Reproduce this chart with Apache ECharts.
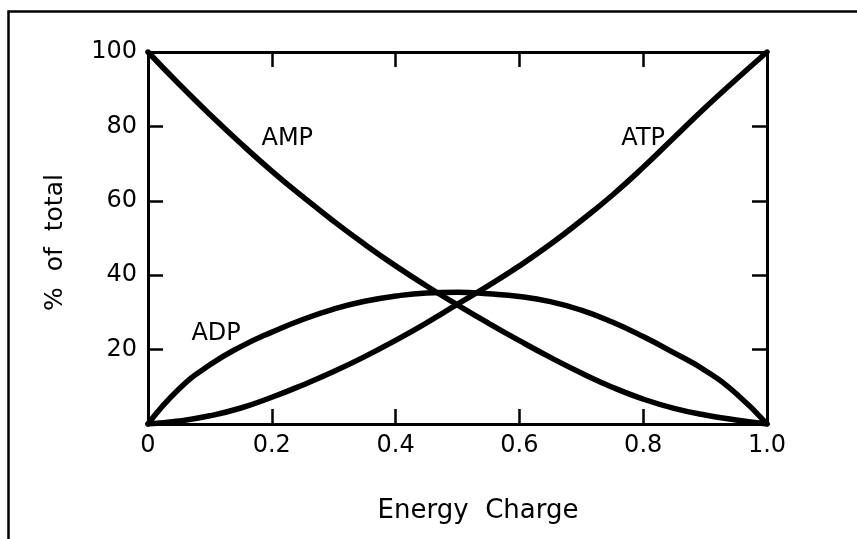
<!DOCTYPE html>
<html>
<head>
<meta charset="utf-8">
<script src="https://cdn.jsdelivr.net/npm/echarts@6/dist/echarts.min.js"></script>
<style>html,body{margin:0;padding:0;background:#fff;}#c{width:857px;height:539px;}</style>
</head>
<body>
<div id="c"></div>
<script>
const energyCharge = [0,0.05,0.1,0.15,0.2,0.25,0.3,0.35,0.4,0.45,0.5,0.55,0.6,0.65,0.7,0.75,0.8,0.85,0.9,0.95,1.0];
const ampValues = [100,91.4,83.2,75.4,68.0,61.1,54.5,48.3,42.5,37.1,32.0,27.1,22.4,17.9,13.7,9.9,6.7,4.2,2.4,1.1,0];
const adpValues = [0,9.4,15.9,20.8,24.7,28.1,30.9,33.0,34.4,35.2,35.4,35.0,34.3,32.9,30.6,27.4,23.5,19.1,14.4,8.2,0];
const atpValues = [0,0.8,2.2,4.3,7.2,10.5,14.1,18.1,22.5,27.2,32.2,37.2,42.5,48.3,54.7,61.5,69.0,77.0,85.0,92.6,100];
const xTickLabels = ['0','0.2','0.4','0.6','0.8','1.0'];
const yTickLabels = ['','20','40','60','80','100'];
const seriesNames = ['AMP','ADP','ATP'];
const labelAnchors = [[0.225,76.8],[0.11,24.3],[0.80,76.8]];

const FONT = 'DejaVu Sans';
const chart = echarts.init(document.getElementById('c'), null, {renderer:'canvas'});
const pairs = vals => energyCharge.map((e,i)=>[e, vals[i]]);
const lineStyle = {color:'#000', width:5.5, cap:'round', join:'round'};
const axisLineStyle = {onZero:false, lineStyle:{color:'#000', width:3}};
const tickStyle = {show:true, inside:true, length:15, lineStyle:{color:'#000', width:2.5}};

function mkSeries(name, vals, anchor){
  return {
    type:'line', name, data:pairs(vals), smooth:true, showSymbol:false,
    lineStyle, silent:true, z:3,
    markPoint:{
      symbol:'circle', symbolSize:1, itemStyle:{color:'rgba(0,0,0,0)'},
      label:{show:true, position:'inside', formatter:name, color:'#000', fontFamily:FONT, fontSize:24},
      data:[{coord:anchor}]
    }
  };
}

chart.setOption({
  backgroundColor:'#fff',
  animation:false,
  grid:{left:148, right:90, top:52, bottom:115},
  graphic:[{type:'rect', shape:{x:8.5, y:11.5, width:1000, height:700}, style:{fill:'none', stroke:'#000', lineWidth:2.5}, silent:true}],
  xAxis:[
    {type:'value', min:0, max:1, interval:0.2, position:'bottom',
     axisLine:axisLineStyle, axisTick:tickStyle, splitLine:{show:false},
     axisLabel:{margin:10, color:'#000', fontFamily:FONT, fontSize:24,
       formatter:v=>xTickLabels[Math.round(v/0.2)]},
     name:'Energy  Charge', nameLocation:'middle', nameGap:74,
     nameTextStyle:{color:'#000', fontFamily:FONT, fontSize:26, padding:[0,0,0,41]}},
    {type:'value', min:0, max:1, interval:0.2, position:'top',
     axisLine:axisLineStyle, axisTick:tickStyle, splitLine:{show:false}, axisLabel:{show:false}}
  ],
  yAxis:[
    {type:'value', min:0, max:100, interval:20, position:'left',
     axisLine:axisLineStyle, axisTick:tickStyle, splitLine:{show:false},
     axisLabel:{margin:11, color:'#000', fontFamily:FONT, fontSize:24,
       formatter:v=>yTickLabels[Math.round(v/20)]},
     name:'%  of  total', nameLocation:'middle', nameGap:80,
     nameTextStyle:{color:'#000', fontFamily:FONT, fontSize:25, padding:[0,9,0,0]}},
    {type:'value', min:0, max:100, interval:20, position:'right',
     axisLine:axisLineStyle, axisTick:tickStyle, splitLine:{show:false}, axisLabel:{show:false}}
  ],
  series:[
    mkSeries(seriesNames[0], ampValues, labelAnchors[0]),
    mkSeries(seriesNames[1], adpValues, labelAnchors[1]),
    mkSeries(seriesNames[2], atpValues, labelAnchors[2])
  ]
});
</script>
</body>
</html>
